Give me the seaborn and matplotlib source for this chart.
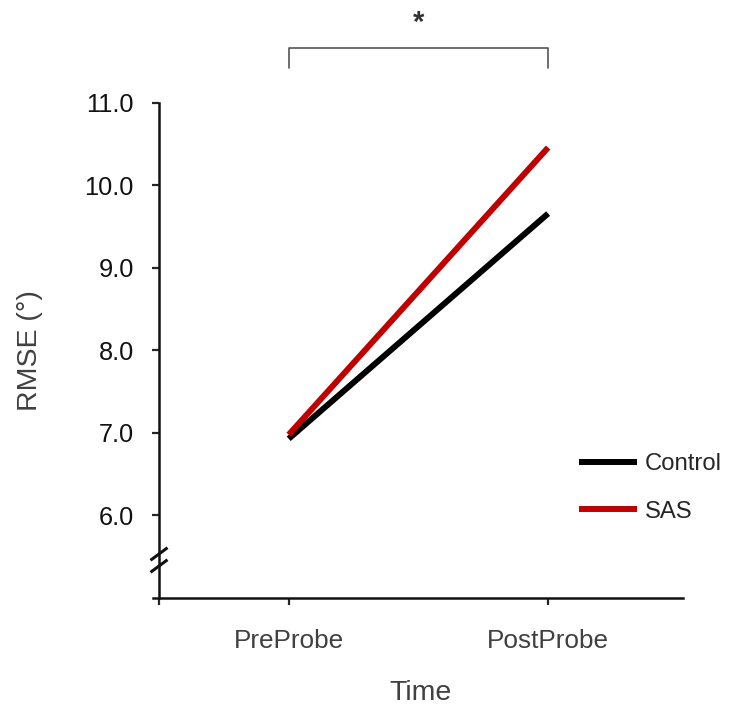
import matplotlib
matplotlib.use("Agg")
import matplotlib.pyplot as plt
import seaborn as sns
import pandas as pd
from matplotlib.lines import Line2D

time_labels = ["PreProbe", "PostProbe"]
groups = ["Control", "SAS"]
control_vals = [6.93, 9.66]
sas_vals = [6.98, 10.46]
y_ticks = [6.0, 7.0, 8.0, 9.0, 10.0, 11.0]

df = pd.DataFrame({
    "x": [0, 1, 0, 1],
    "RMSE": control_vals + sas_vals,
    "Group": [groups[0]] * 2 + [groups[1]] * 2,
})

sns.set_style("white")
plt.rcParams["font.family"] = ["Liberation Sans", "DejaVu Sans"]

fig = plt.figure(figsize=(7.33, 7.06), dpi=100)
ax = fig.add_axes([159 / 733, 1 - 598 / 706, 524 / 733, 495 / 706])

sns.lineplot(data=df, x="x", y="RMSE", hue="Group",
             palette={"Control": "#000000", "SAS": "#C00000"},
             linewidth=4.3, ax=ax, legend=False)
for ln in ax.lines:
    ln.set_solid_capstyle("butt")

ax.set_xlim(-0.5, 1.52)
ax.set_ylim(5.0, 11.0)
ax.set_yticks(y_ticks)
ax.set_yticklabels([f"{v:.1f}" for v in y_ticks], fontsize=18.3, color="#111111")
ax.set_xticks([-0.5, 0, 1])
ax.set_xticklabels([""] + time_labels, fontsize=18.8, color="#404040")
ax.tick_params(axis="y", direction="out", length=5, width=1.6, left=True, pad=13)
ax.tick_params(axis="x", direction="out", length=5, width=1.6, bottom=True, pad=17)

for s in ["top", "right"]:
    ax.spines[s].set_visible(False)
for s in ["left", "bottom"]:
    ax.spines[s].set_linewidth(1.8)
    ax.spines[s].set_color("#111111")
ax.spines["bottom"].set_bounds(-0.522, 1.52)

ax.set_xlabel("Time", fontsize=20.5, color="#404040", labelpad=20)
ax.set_ylabel("RMSE (°)", fontsize=20.5, color="#404040", labelpad=30)

# axis break marks
for yc in [0.0889, 0.0646]:
    ax.plot([-0.0162, 0.0162], [yc - 0.0127, yc + 0.0127], transform=ax.transAxes,
            color="#111111", lw=2.2, clip_on=False, solid_capstyle="butt")

# significance bracket
ax.plot([0, 0, 1, 1], [11.425, 11.668, 11.668, 11.425], color="#555555",
        lw=1.2, clip_on=False)
ax.text(0.5, 11.97, "*", ha="center", va="center", fontsize=21, fontweight="bold",
        color="#333333", clip_on=False)

# legend
handles = [Line2D([], [], color="#000000", lw=4.3, solid_capstyle="butt"),
           Line2D([], [], color="#C00000", lw=4.3, solid_capstyle="butt")]
fig.legend(handles, groups, loc="center left",
           bbox_to_anchor=(557 / 733, 1 - 488 / 706), frameon=False,
           fontsize=17.2, handlelength=2.43, handletextpad=0.33, labelspacing=1.05)

fig.savefig("out.png", dpi=100)
